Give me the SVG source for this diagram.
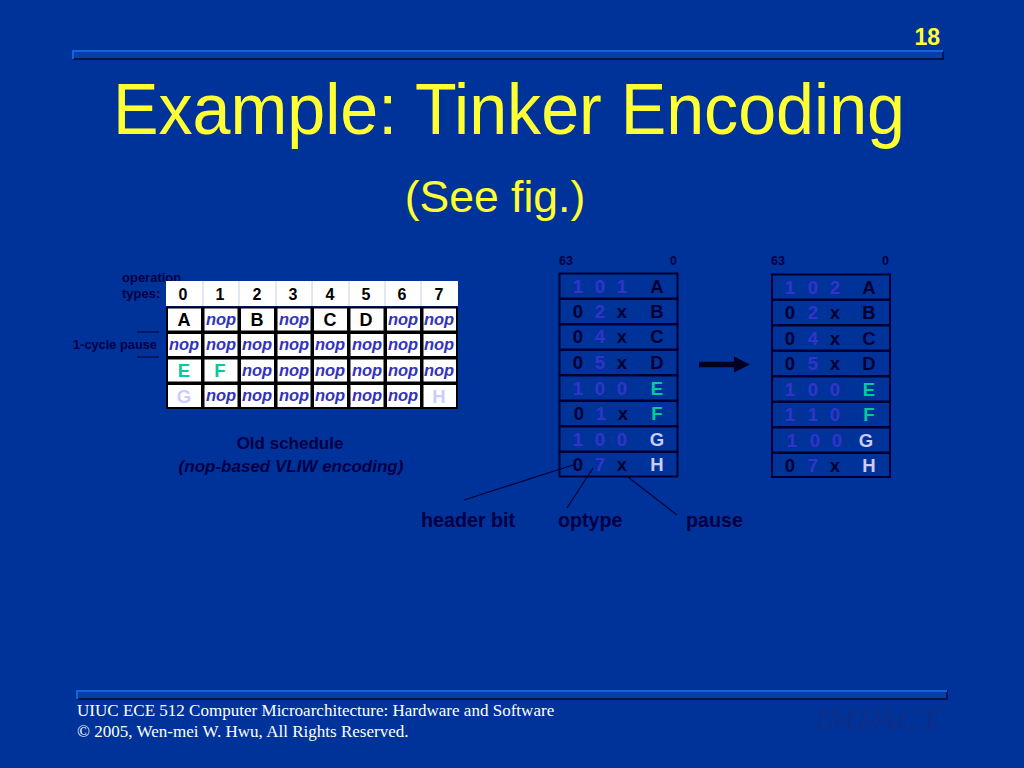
<svg xmlns="http://www.w3.org/2000/svg" width="1024" height="768" viewBox="0 0 1024 768">
<defs>
<marker id="bigArrow" markerUnits="userSpaceOnUse" markerWidth="16" markerHeight="16" refX="0" refY="8" orient="auto"><path d="M0 0L16 8L0 16Z" fill="#000022"/></marker>
</defs>
<style>
text{font-family:"Liberation Sans",Arial,sans-serif}
.t{fill:#ffff33}
.lab{fill:#000044;font-weight:bold}
.c{font-size:18px;font-weight:bold;text-anchor:middle;fill:#000}
.h{font-size:16px;font-weight:bold;text-anchor:middle;fill:#000}
.n{font-size:16.500px;font-weight:bold;font-style:italic;text-anchor:middle;fill:#3333bb}
.d{font-size:18.500px;font-weight:bold;text-anchor:middle;fill:#3333cc}
.k{font-size:18.500px;font-weight:bold;text-anchor:middle;fill:#000033}
.e{font-size:18.500px;font-weight:bold;text-anchor:middle;fill:#00cc99}
.g{font-size:18.500px;font-weight:bold;text-anchor:middle;fill:#ccccff}
.cell{fill:#fff;stroke:#000;stroke-width:2}
.row{fill:#003399;stroke:#000033;stroke-width:2}
.foot{font-family:"Liberation Serif",serif;font-size:17.050px;fill:#fff}
.ln{stroke:#000033;stroke-width:1.2;fill:none}
.hi{fill:none;stroke:#1166dd;stroke-width:2}
.lo{fill:none;stroke:#00144f;stroke-width:2}
.imp{font-family:"Liberation Serif",serif;font-size:32px;font-style:italic;fill:#0c2f8c;stroke:#0c2f8c;stroke-width:0.6}
</style>
<rect width="1024" height="768" fill="#003399"/>

<g id="top-bar">
<rect x="73" y="51" width="870" height="8" fill="#0a3ea6"/>
<path class="lo" d="M73 59H943V51"/>
<path class="hi" d="M73 59V51H943"/>
</g>
<text id="page-number" class="t" x="940" y="45" font-size="23" font-weight="bold" text-anchor="end">18</text>
<text id="title" class="t" x="113" y="134" font-size="72" textLength="792" lengthAdjust="spacingAndGlyphs">Example: Tinker Encoding</text>
<text id="subtitle" class="t" x="495" y="212" font-size="44.500" text-anchor="middle">(See fig.)</text>

<g id="old-schedule">
<text class="lab" x="122" y="282" font-size="13">operation</text>
<text class="lab" x="122" y="298" font-size="13">types:</text>
<text class="lab" x="73" y="349" font-size="12.800">1-cycle pause</text>
<path class="ln" d="M137 332H159M137 357H159"/>
<rect x="166" y="281" width="292" height="25" fill="#fff"/>
<path d="M203 281V306M239 281V306M276 281V306M312 281V306M349 281V306M385 281V306M421 281V306" stroke="#ccccee" stroke-width="1"/>
<g class="header-row">
<text class="h" x="183" y="300">0</text><text class="h" x="220" y="300">1</text><text class="h" x="257" y="300">2</text><text class="h" x="293" y="300">3</text><text class="h" x="330" y="300">4</text><text class="h" x="366" y="300">5</text><text class="h" x="402" y="300">6</text><text class="h" x="439" y="300">7</text>
</g>
<g class="cells">
<rect class="cell" x="167" y="307.500" width="35" height="24"/><rect class="cell" x="203.500" y="307.500" width="35" height="24"/><rect class="cell" x="240" y="307.500" width="35" height="24"/><rect class="cell" x="276.500" y="307.500" width="35" height="24"/><rect class="cell" x="313" y="307.500" width="35" height="24"/><rect class="cell" x="349.500" y="307.500" width="35" height="24"/><rect class="cell" x="386" y="307.500" width="35" height="24"/><rect class="cell" x="422.500" y="307.500" width="34.500" height="24"/>
<rect class="cell" x="167" y="333" width="35" height="24"/><rect class="cell" x="203.500" y="333" width="35" height="24"/><rect class="cell" x="240" y="333" width="35" height="24"/><rect class="cell" x="276.500" y="333" width="35" height="24"/><rect class="cell" x="313" y="333" width="35" height="24"/><rect class="cell" x="349.500" y="333" width="35" height="24"/><rect class="cell" x="386" y="333" width="35" height="24"/><rect class="cell" x="422.500" y="333" width="34.500" height="24"/>
<rect class="cell" x="167" y="358.500" width="35" height="24"/><rect class="cell" x="203.500" y="358.500" width="35" height="24"/><rect class="cell" x="240" y="358.500" width="35" height="24"/><rect class="cell" x="276.500" y="358.500" width="35" height="24"/><rect class="cell" x="313" y="358.500" width="35" height="24"/><rect class="cell" x="349.500" y="358.500" width="35" height="24"/><rect class="cell" x="386" y="358.500" width="35" height="24"/><rect class="cell" x="422.500" y="358.500" width="34.500" height="24"/>
<rect class="cell" x="167" y="384" width="35" height="24"/><rect class="cell" x="203.500" y="384" width="35" height="24"/><rect class="cell" x="240" y="384" width="35" height="24"/><rect class="cell" x="276.500" y="384" width="35" height="24"/><rect class="cell" x="313" y="384" width="35" height="24"/><rect class="cell" x="349.500" y="384" width="35" height="24"/><rect class="cell" x="386" y="384" width="35" height="24"/><rect class="cell" x="422.500" y="384" width="34.500" height="24"/>
</g>
<g class="cell-text">
<text class="c" x="184" y="326">A</text><text class="n" x="221" y="325">nop</text><text class="c" x="257" y="326">B</text><text class="n" x="294" y="325">nop</text><text class="c" x="330" y="326">C</text><text class="c" x="366" y="326">D</text><text class="n" x="403" y="325">nop</text><text class="n" x="439" y="325">nop</text>
<text class="n" x="184" y="350">nop</text><text class="n" x="221" y="350">nop</text><text class="n" x="257" y="350">nop</text><text class="n" x="294" y="350">nop</text><text class="n" x="330" y="350">nop</text><text class="n" x="367" y="350">nop</text><text class="n" x="403" y="350">nop</text><text class="n" x="439" y="350">nop</text>
<text class="e" x="184" y="377">E</text><text class="e" x="220" y="377">F</text><text class="n" x="257" y="376">nop</text><text class="n" x="294" y="376">nop</text><text class="n" x="330" y="376">nop</text><text class="n" x="367" y="376">nop</text><text class="n" x="403" y="376">nop</text><text class="n" x="439" y="376">nop</text>
<text class="g" x="184" y="403">G</text><text class="n" x="221" y="401">nop</text><text class="n" x="257" y="401">nop</text><text class="n" x="294" y="401">nop</text><text class="n" x="330" y="401">nop</text><text class="n" x="367" y="401">nop</text><text class="n" x="403" y="401">nop</text><text class="g" x="439" y="403">H</text>
</g>
<text class="lab" x="290" y="449" font-size="17" text-anchor="middle">Old schedule</text>
<text class="lab" x="291" y="472" font-size="17" font-style="italic" text-anchor="middle">(nop-based VLIW encoding)</text>
</g>

<g id="tinker-before">
<text class="lab" x="559" y="265" font-size="12.500">63</text><text class="lab" x="670" y="265" font-size="12.500">0</text>
<rect class="row" x="559.500" y="273.500" width="118" height="25"/><rect class="row" x="559.500" y="299" width="118" height="25"/><rect class="row" x="559.500" y="324.500" width="118" height="25"/><rect class="row" x="559.500" y="350" width="118" height="25"/><rect class="row" x="559.500" y="375.500" width="118" height="25"/><rect class="row" x="559.500" y="401" width="118" height="25"/><rect class="row" x="559.500" y="426.500" width="118" height="25"/><rect class="row" x="559.500" y="452" width="118" height="24.500"/>
<text class="d" x="578" y="293">1</text><text class="d" x="600" y="293">0</text><text class="d" x="622" y="293">1</text><text class="k" x="657" y="293">A</text>
<text class="k" x="578" y="318">0</text><text class="d" x="600" y="318">2</text><text class="k" x="622" y="318">x</text><text class="k" x="657" y="318">B</text>
<text class="k" x="578" y="343">0</text><text class="d" x="600" y="343">4</text><text class="k" x="622" y="343">x</text><text class="k" x="657" y="343">C</text>
<text class="k" x="578" y="369">0</text><text class="d" x="600" y="369">5</text><text class="k" x="622" y="369">x</text><text class="k" x="657" y="369">D</text>
<text class="d" x="578" y="395">1</text><text class="d" x="600" y="395">0</text><text class="d" x="622" y="395">0</text><text class="e" x="657" y="395">E</text>
<text class="k" x="579" y="420">0</text><text class="d" x="601" y="420">1</text><text class="k" x="623" y="420">x</text><text class="e" x="657" y="420">F</text>
<text class="d" x="578" y="446">1</text><text class="d" x="600" y="446">0</text><text class="d" x="622" y="446">0</text><text class="g" x="657" y="446">G</text>
<text class="k" x="578" y="471">0</text><text class="d" x="600" y="471">7</text><text class="k" x="622" y="471">x</text><text class="g" x="657" y="471">H</text>
</g>

<g id="tinker-after">
<text class="lab" x="771" y="265" font-size="12.500">63</text><text class="lab" x="882" y="265" font-size="12.500">0</text>
<rect class="row" x="772" y="274.500" width="118" height="25"/><rect class="row" x="772" y="300" width="118" height="25"/><rect class="row" x="772" y="325.500" width="118" height="25"/><rect class="row" x="772" y="351" width="118" height="25"/><rect class="row" x="772" y="376.500" width="118" height="25"/><rect class="row" x="772" y="402" width="118" height="25"/><rect class="row" x="772" y="427.500" width="118" height="25"/><rect class="row" x="772" y="453" width="118" height="24"/>
<text class="d" x="790" y="294">1</text><text class="d" x="813" y="294">0</text><text class="d" x="835" y="294">2</text><text class="k" x="869" y="294">A</text>
<text class="k" x="790" y="319">0</text><text class="d" x="813" y="319">2</text><text class="k" x="835" y="319">x</text><text class="k" x="869" y="319">B</text>
<text class="k" x="790" y="345">0</text><text class="d" x="813" y="345">4</text><text class="k" x="835" y="345">x</text><text class="k" x="869" y="345">C</text>
<text class="k" x="790" y="370">0</text><text class="d" x="813" y="370">5</text><text class="k" x="835" y="370">x</text><text class="k" x="869" y="370">D</text>
<text class="d" x="790" y="396">1</text><text class="d" x="813" y="396">0</text><text class="d" x="835" y="396">0</text><text class="e" x="869" y="396">E</text>
<text class="d" x="790" y="421">1</text><text class="d" x="813" y="421">1</text><text class="d" x="835" y="421">0</text><text class="e" x="869" y="421">F</text>
<text class="d" x="792" y="447">1</text><text class="d" x="815" y="447">0</text><text class="d" x="837" y="447">0</text><text class="g" x="866" y="447">G</text>
<text class="k" x="790" y="472">0</text><text class="d" x="813" y="472">7</text><text class="k" x="835" y="472">x</text><text class="g" x="869" y="472">H</text>
</g>

<g id="callout-labels">
<text class="lab" x="421" y="527" font-size="19.700">header bit</text>
<text class="lab" x="558" y="527" font-size="19.700">optype</text>
<text class="lab" x="686" y="527" font-size="19.700">pause</text>
</g>

<g id="connectors">
<line class="ln" x1="464" y1="500" x2="573" y2="465"/>
<line class="ln" x1="567" y1="508" x2="593" y2="468"/>
<line class="ln" x1="677" y1="515" x2="628" y2="477"/>
<line x1="699" y1="364.500" x2="734" y2="364.500" stroke="#000022" stroke-width="5.500" marker-end="url(#bigArrow)"/>
</g>

<g id="footer">
<rect x="77" y="690" width="870" height="9" fill="#0a3ea6"/>
<path class="lo" d="M77 699H947V690"/>
<path class="hi" d="M77 699V691H947"/>
<text class="foot" x="77" y="716">UIUC ECE 512 Computer Microarchitecture: Hardware and Software</text>
<text class="foot" x="77" y="737">© 2005, Wen-mei W. Hwu, All Rights Reserved.</text>
<text class="imp" x="815" y="730" textLength="126" lengthAdjust="spacingAndGlyphs">IMPACT</text>
</g>
</svg>
